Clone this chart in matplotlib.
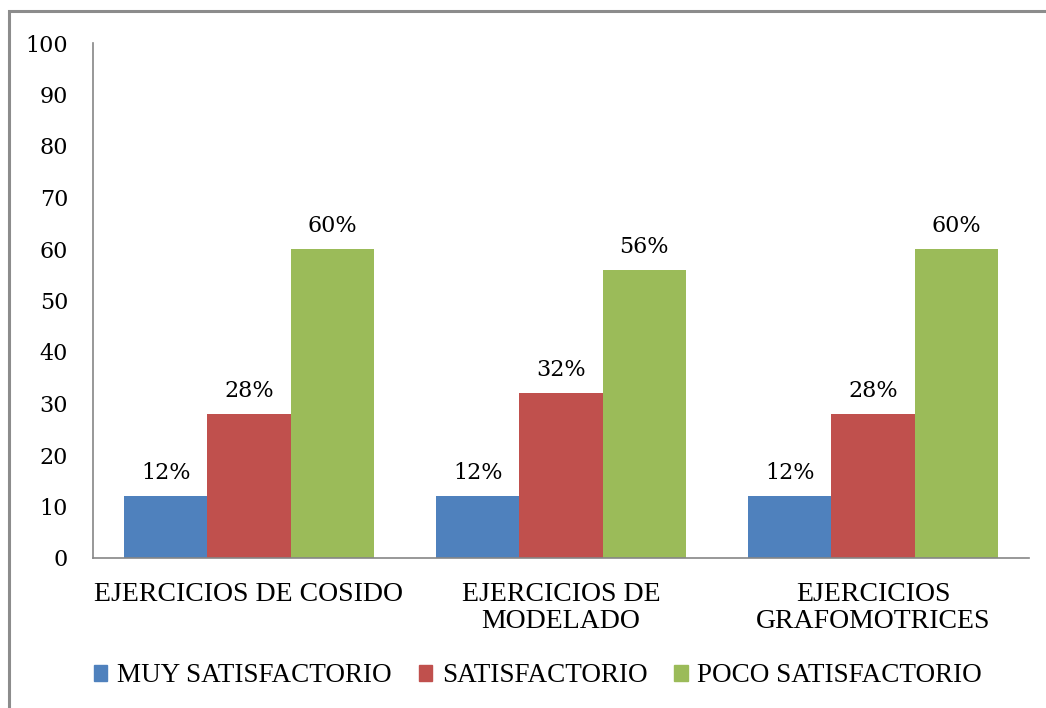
import matplotlib
matplotlib.use('Agg')
import matplotlib.pyplot as plt
from matplotlib.patches import Rectangle, Patch
import numpy as np

categories = ['EJERCICIOS DE COSIDO', 'EJERCICIOS DE\nMODELADO', 'EJERCICIOS\nGRAFOMOTRICES']
series_names = ['MUY SATISFACTORIO', 'SATISFACTORIO', 'POCO SATISFACTORIO']
muy = [12, 12, 12]
satis = [28, 32, 28]
poco = [60, 56, 60]
colors = ['#4F81BD', '#C0504D', '#9BBB59']

fig = plt.figure(figsize=(10.46, 7.08), dpi=100)
ax = fig.add_axes([93 / 1046, 1 - 558 / 708, (1029 - 93) / 1046, (558 - 43) / 708])

# outer chart border (cut off at right and bottom like the reference)
fig.patches.append(Rectangle((9 / 1046, -0.1), 1.2, 1 - 11 / 708 + 0.1, transform=fig.transFigure,
                             fill=False, edgecolor='#8C8C8C', linewidth=2.2))

x = np.arange(len(categories))
w = 0.8 / 3
num_font = dict(family='DejaVu Serif', size=16)
for i, vals in enumerate([muy, satis, poco]):
    bars = ax.bar(x + (i - 1) * w, vals, w, color=colors[i], label=series_names[i])
    for b, v in zip(bars, vals):
        ax.text(b.get_x() + b.get_width() / 2, v + 2.3, f'{v}%', ha='center', va='bottom', **num_font)

ax.set_xlim(-0.5, 2.5)
ax.set_ylim(0, 100)
ax.set_yticks(range(0, 101, 10))
ax.set_yticklabels([str(t) for t in range(0, 101, 10)], **num_font)
ax.set_xticks(x)
ax.set_xticklabels(categories, family='Liberation Serif', size=20, linespacing=1.15)
ax.tick_params(length=0)
ax.tick_params(axis='y', pad=18)
ax.tick_params(axis='x', pad=17)
for s in ['top', 'right']:
    ax.spines[s].set_visible(False)
for s in ['left', 'bottom']:
    ax.spines[s].set_color('#868686')
    ax.spines[s].set_linewidth(1.2)

handles = [Patch(color=c) for c in colors]
fig.legend(handles, series_names, loc='center', bbox_to_anchor=(538 / 1046, 1 - 676 / 708), ncol=3,
           frameon=False, prop=dict(family='Liberation Serif', size=19.5),
           handlelength=0.5, handleheight=0.5, handletextpad=0.35, columnspacing=1.0)

fig.savefig('out.png', dpi=100)
